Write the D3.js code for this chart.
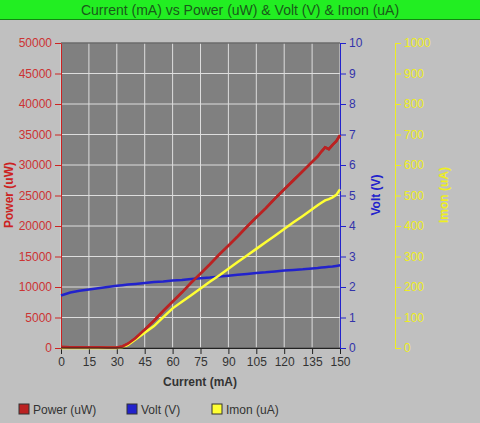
<!DOCTYPE html>
<html><head><meta charset="utf-8">
<script src="https://cdn.jsdelivr.net/npm/d3@7"></script>
<style>body{margin:0;background:#c0c0c0;font-family:Arial,"Liberation Sans",sans-serif}</style>
</head><body><svg id="c" width="480" height="423"></svg>
<script>
const current = [0,5,10,15,20,25,30,33,36,40,45,50,55,60,65,70,75,80,85,90,95,100,105,110,115,120,125,130,135,138,140,142,144,146,148,150];
const power =   [150,140,130,120,110,100,100,250,700,1600,3000,4500,6100,7600,9100,10700,12200,13700,15300,16800,18300,19900,21400,22900,24500,26000,27500,29000,30500,31400,32200,32900,32600,33300,33900,34900];
const volt =    [1.72,1.82,1.88,1.92,1.96,2.0,2.04,2.06,2.08,2.1,2.13,2.16,2.18,2.21,2.23,2.26,2.29,2.31,2.34,2.37,2.40,2.43,2.46,2.48,2.51,2.54,2.56,2.58,2.61,2.62,2.64,2.65,2.66,2.67,2.69,2.71];
const imon =    [0,0,0,0,0,0,0,2,10,28,50,72,101,130,152,173,195,217,238,260,282,303,325,347,368,390,412,433,455,468,476,484,488,494,502,520];
const xTicks = d3.range(0,151,15);

const svg = d3.select("#c");
const m = {l:61, r:340, t:43, b:348};
const x = d3.scaleLinear().domain([0,150]).range([m.l,m.r]);
const yP = d3.scaleLinear().domain([0,50000]).range([m.b,m.t]);
const yV = d3.scaleLinear().domain([0,10]).range([m.b,m.t]);
const yI = d3.scaleLinear().domain([0,1000]).range([m.b,m.t]);
const fmt = d3.format("d");

svg.append("rect").attr("width",480).attr("height",19).attr("fill","#22ee22");
svg.append("line").attr("x1",0).attr("x2",480).attr("y1",19.5).attr("y2",19.5).attr("stroke","#118811");
svg.append("text").attr("x",240).attr("y",15).attr("text-anchor","middle").attr("font-size",14).attr("fill","#1a5a1a").text("Current (mA) vs Power (uW) & Volt (V) & Imon (uA)");

svg.append("rect").attr("x",m.l).attr("y",m.t).attr("width",m.r-m.l).attr("height",m.b-m.t).attr("fill","#808080");
const g = svg.append("g");
yP.ticks(10).forEach(t=>g.append("line").attr("x1",m.l).attr("x2",m.r).attr("y1",yP(t)).attr("y2",yP(t)).attr("stroke","#ddd").attr("stroke-width",1));
xTicks.forEach(t=>g.append("line").attr("x1",x(t)).attr("x2",x(t)).attr("y1",m.t).attr("y2",m.b).attr("stroke","#ddd").attr("stroke-width",1));
svg.append("line").attr("x1",m.l).attr("x2",m.r).attr("y1",m.t).attr("y2",m.t).attr("stroke","#333");

function style(sel,col){sel.selectAll("path,line").attr("stroke",col);sel.selectAll("text").attr("fill",col).attr("font-size",12).attr("font-family","Arial,Liberation Sans");}
const ax = svg.append("g").attr("transform",`translate(0,${m.b})`).call(d3.axisBottom(x).tickValues(xTicks).tickSizeOuter(0));
style(ax,"#222"); ax.selectAll("text").attr("fill","#333");
const ap = svg.append("g").attr("transform",`translate(${m.l},0)`).call(d3.axisLeft(yP).ticks(10).tickFormat(fmt).tickSizeOuter(0));
style(ap,"#cc2222"); ap.selectAll("text").attr("fill","#cc3333");
const av = svg.append("g").attr("transform",`translate(${m.r},0)`).call(d3.axisRight(yV).ticks(10).tickSizeOuter(0));
style(av,"#2222cc"); av.selectAll("text").attr("fill","#3333aa");
const ai = svg.append("g").attr("transform",`translate(395,0)`).call(d3.axisRight(yI).ticks(10).tickFormat(fmt).tickSizeOuter(0));
style(ai,"#eeee22");

svg.append("text").attr("x",200).attr("y",386).attr("text-anchor","middle").attr("font-size",12).attr("font-weight","bold").attr("fill","#333").text("Current (mA)");
svg.append("text").attr("transform","translate(13,195) rotate(-90)").attr("text-anchor","middle").attr("font-size",12).attr("font-weight","bold").attr("fill","#cc2222").text("Power (uW)");
svg.append("text").attr("transform","translate(380,195) rotate(-90)").attr("text-anchor","middle").attr("font-size",12).attr("font-weight","bold").attr("fill","#2222cc").text("Volt (V)");
svg.append("text").attr("transform","translate(448,195) rotate(-90)").attr("text-anchor","middle").attr("font-size",12).attr("font-weight","bold").attr("fill","#eeee22").text("Imon (uA)");

const series = [
 {name:"Power (uW)", v:power, y:yP, c:"#bb2222"},
 {name:"Volt (V)", v:volt, y:yV, c:"#2222cc"},
 {name:"Imon (uA)", v:imon, y:yI, c:"#ffff33"}];
series.forEach(s=>{
  svg.append("path").datum(current).attr("fill","none").attr("stroke",s.c).attr("stroke-width",2.5)
   .attr("d",d3.line().x(d=>x(d)).y((d,i)=>s.y(s.v[i])));
});
svg.append("path").datum(current).attr("fill","none").attr("stroke","#bb2222").attr("stroke-width",2.5)
   .attr("d",d3.line().x(d=>x(d)).y((d,i)=>yP(power[i])));
svg.append("line").attr("x1",m.l).attr("x2",m.r).attr("y1",m.b).attr("y2",m.b).attr("stroke","#222");

const lx=[19,127,212];
series.forEach((s,i)=>{
  svg.append("rect").attr("x",lx[i]).attr("y",404).attr("width",10).attr("height",10).attr("fill",s.c).attr("stroke","#333");
  svg.append("text").attr("x",lx[i]+14).attr("y",414).attr("font-size",12).attr("fill","#333").text(s.name);
});
</script></body></html>
